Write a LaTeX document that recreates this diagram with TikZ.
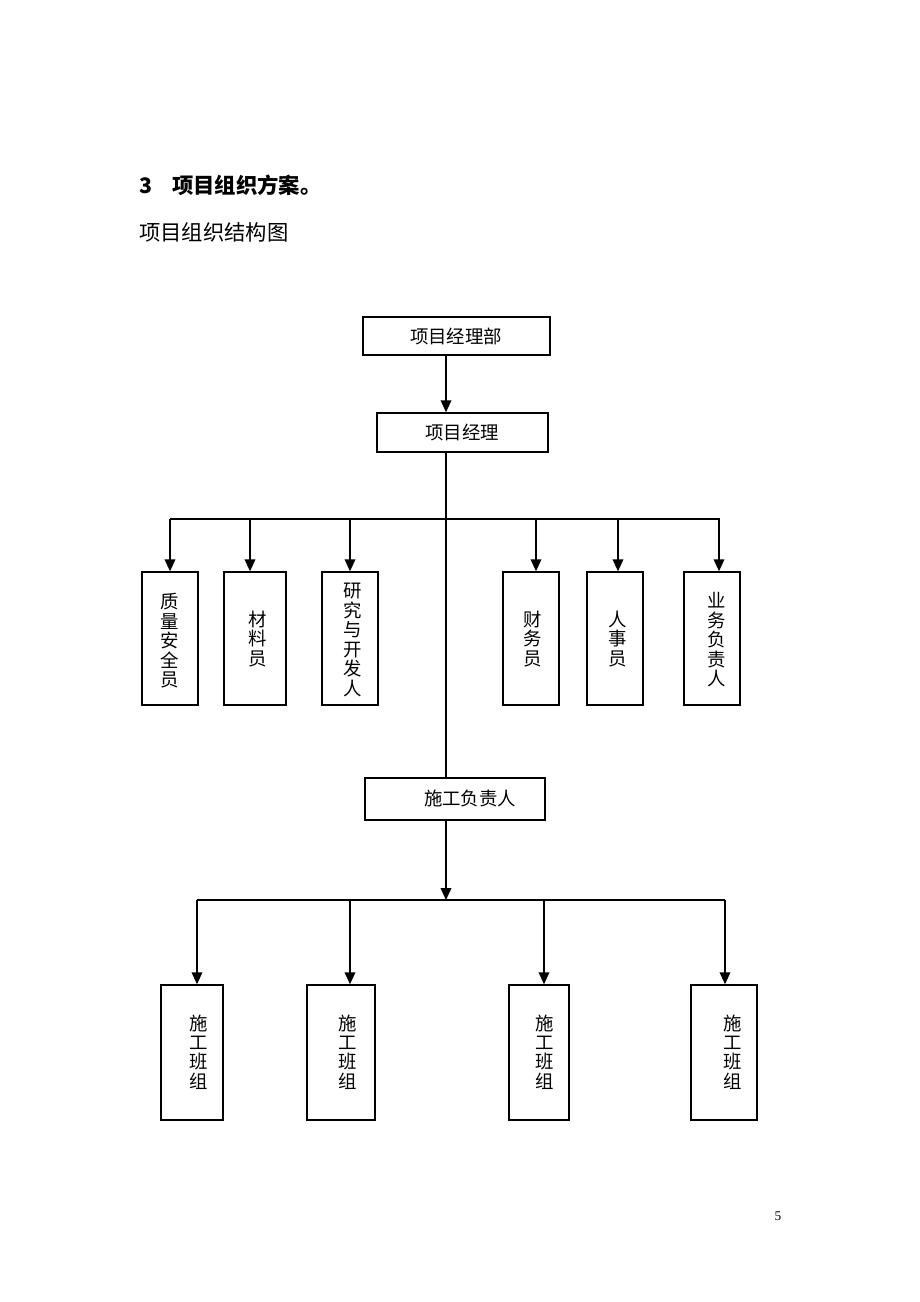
\documentclass[tikz,border=0pt]{standalone}
\usepackage{fontspec}
\setmainfont{Liberation Serif}
\newfontfamily\cjk{Noto Sans CJK SC}
\usetikzlibrary{arrows.meta,fit}
\tikzset{
  boxline/.style={draw=black, line width=1.1pt, inner sep=0pt, fill=none},
  conn/.style={draw=black, line width=1.1pt},
  arr/.style={conn, -{Triangle[length=9pt,width=8pt]}},
  lbl/.style={font=\cjk\fontsize{13.8}{14.6}\selectfont, align=center, inner sep=0pt},
}
\newcommand{\orgbox}[8]{%
  \node[boxline, fit={(#2,#3)(#4,#5)}] (#1) {};
  \node[lbl] (#1t) at (#6,#7) {#8};
}
\begin{document}
\begin{tikzpicture}[x=0.75pt,y=-0.75pt]
\useasboundingbox (0,0) rectangle (920,1302);
% titles
\node[anchor=west, inner sep=0pt, font=\cjk\bfseries\fontsize{16}{18}\selectfont] (title) at (139,185) {3\hspace{15pt}项目组织方案。};
\node[anchor=west, inner sep=0pt, font=\cjk\fontsize{16}{18}\selectfont] (subtitle) at (139,232) {项目组织结构图};
% boxes
\orgbox{pm}{363}{317}{550}{355}{456}{336}{项目经理部}
\orgbox{mgr}{377}{413}{548}{452}{462}{432}{项目经理}
\orgbox{a1}{142}{572}{198}{705}{170}{641}{质\\量\\安\\全\\员}
\orgbox{a2}{224}{572}{286}{705}{258}{639}{材\\料\\员}
\orgbox{a3}{322}{572}{378}{705}{353}{640}{研\\究\\与\\开\\发\\人}
\orgbox{a4}{503}{572}{559}{705}{533}{639}{财\\务\\员}
\orgbox{a5}{587}{572}{643}{705}{618}{639}{人\\事\\员}
\orgbox{a6}{684}{572}{740}{705}{717}{640}{业\\务\\负\\责\\人}
\orgbox{sg}{365}{778}{545}{820}{470}{799}{施工负责人}
\orgbox{b1}{161}{985}{223}{1120}{199}{1052}{施\\工\\班\\组}
\orgbox{b2}{307}{985}{375}{1120}{348}{1052}{施\\工\\班\\组}
\orgbox{b3}{509}{985}{569}{1120}{545}{1052}{施\\工\\班\\组}
\orgbox{b4}{691}{985}{757}{1120}{733}{1052}{施\\工\\班\\组}
% trunk coordinates
\coordinate (trunk) at (446,0);
\coordinate (bus1L) at (170,519);
\coordinate (bus1R) at (720,519);
\coordinate (bus2) at (446,900);
\coordinate (bus2L) at (197,900);
\coordinate (bus2R) at (725,900);
% connectors top
\draw[arr] (pm.south -| trunk) -- (mgr.north -| trunk);
\draw[conn] (mgr.south -| trunk) -- (sg.north -| trunk);
\draw[conn] (bus1L) -- (bus1R);
\foreach \n/\xx in {a1/170,a2/250,a3/350,a4/536,a5/618,a6/719}{
  \coordinate (d\n) at (\xx,519);
  \draw[arr] (d\n) -- (d\n |- \n.north);
}
% connectors bottom
\draw[arr] (sg.south -| trunk) -- (bus2);
\draw[conn] (bus2L) -- (bus2R);
\foreach \n/\xx in {b1/197,b2/350,b3/544,b4/725}{
  \coordinate (d\n) at (\xx,900);
  \draw[arr] (d\n) -- (d\n |- \n.north);
}
% page number
\node[inner sep=0pt, font=\fontsize{10}{12}\selectfont] (pageno) at (778,1216) {5};
\end{tikzpicture}
\end{document}
